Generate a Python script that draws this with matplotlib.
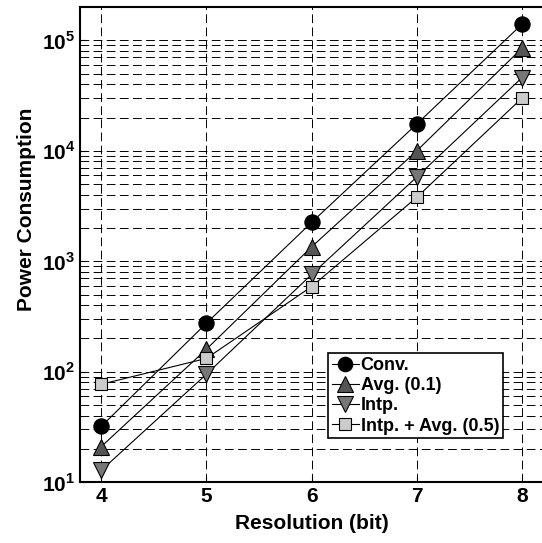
import matplotlib
matplotlib.use('Agg')
import matplotlib.pyplot as plt
from matplotlib.ticker import LogLocator, FixedLocator

plt.rcParams['font.family'] = ['Liberation Sans', 'DejaVu Sans']
plt.rcParams['font.weight'] = 'bold'
plt.rcParams['mathtext.fontset'] = 'custom'
plt.rcParams['mathtext.rm'] = 'Liberation Sans:bold'
plt.rcParams['mathtext.bf'] = 'Liberation Sans:bold'

# data
resolution = [4, 5, 6, 7, 8]
conv = [32, 275, 2250, 17500, 140000]
avg = [21, 160, 1350, 10000, 85000]
intp = [12.8, 95, 760, 5800, 46000]
intp_avg = [77, 132, 590, 3800, 30000]
labels = ['Conv.', 'Avg. (0.1)', 'Intp.', 'Intp. + Avg. (0.5)']
y_ticks = [10, 100, 1000, 10000, 100000]

fig = plt.figure(figsize=(5.42, 5.43), dpi=100)
ax = fig.add_axes([0.148, 0.112, 0.854, 0.875])

styles = [
    ('o', 'black', 11),
    ('^', '#555555', 12),
    ('v', '#777777', 12),
    ('s', '#cccccc', 8.5),
]
for vals, lab, (mk, col, ms) in zip([conv, avg, intp, intp_avg], labels, styles):
    ax.plot(resolution, vals, color='black', lw=0.8, marker=mk, ms=ms,
            markerfacecolor=col, markeredgecolor='black', markeredgewidth=0.8,
            label=lab)

ax.set_yscale('log')
ax.set_xlim(3.8, 8.2)
ax.set_ylim(10, 2e5)
ax.set_xticks(resolution)
ax.yaxis.set_major_locator(FixedLocator(y_ticks))
ax.yaxis.set_minor_locator(LogLocator(base=10, subs=range(2, 10)))
ax.set_yticklabels([r'$10^{%d}$' % i for i in range(1, 6)])
ax.yaxis.set_minor_formatter(plt.NullFormatter())

dash = (0, (9, 4.5))
ax.grid(True, which='major', ls=dash, color='black', lw=0.7)
ax.grid(True, which='minor', axis='y', ls=dash, color='black', lw=0.7)

ax.tick_params(axis='both', which='both', direction='in', labelsize=15)
ax.tick_params(axis='y', which='minor', length=0)
ax.tick_params(axis='both', which='major', length=4)
for lab in ax.get_xticklabels() + ax.get_yticklabels():
    lab.set_fontweight('bold')
for sp in ax.spines.values():
    sp.set_linewidth(1.5)

ax.set_xlabel('Resolution (bit)', fontsize=15, fontweight='bold', labelpad=6)
ax.set_ylabel('Power Consumption', fontsize=15, fontweight='bold')
ax.yaxis.set_label_coords(-0.095, 0.575)

leg = ax.legend(loc='lower left', bbox_to_anchor=(0.535, 0.092), borderaxespad=0,
                fontsize=13, handlelength=1.5, handletextpad=0.1,
                labelspacing=0.17, borderpad=0.22, fancybox=False, framealpha=1,
                edgecolor='black', markerscale=0.95)
leg.get_frame().set_linewidth(1.2)
for t in leg.get_texts():
    t.set_fontweight('bold')

fig.savefig('out.png', dpi=100)
